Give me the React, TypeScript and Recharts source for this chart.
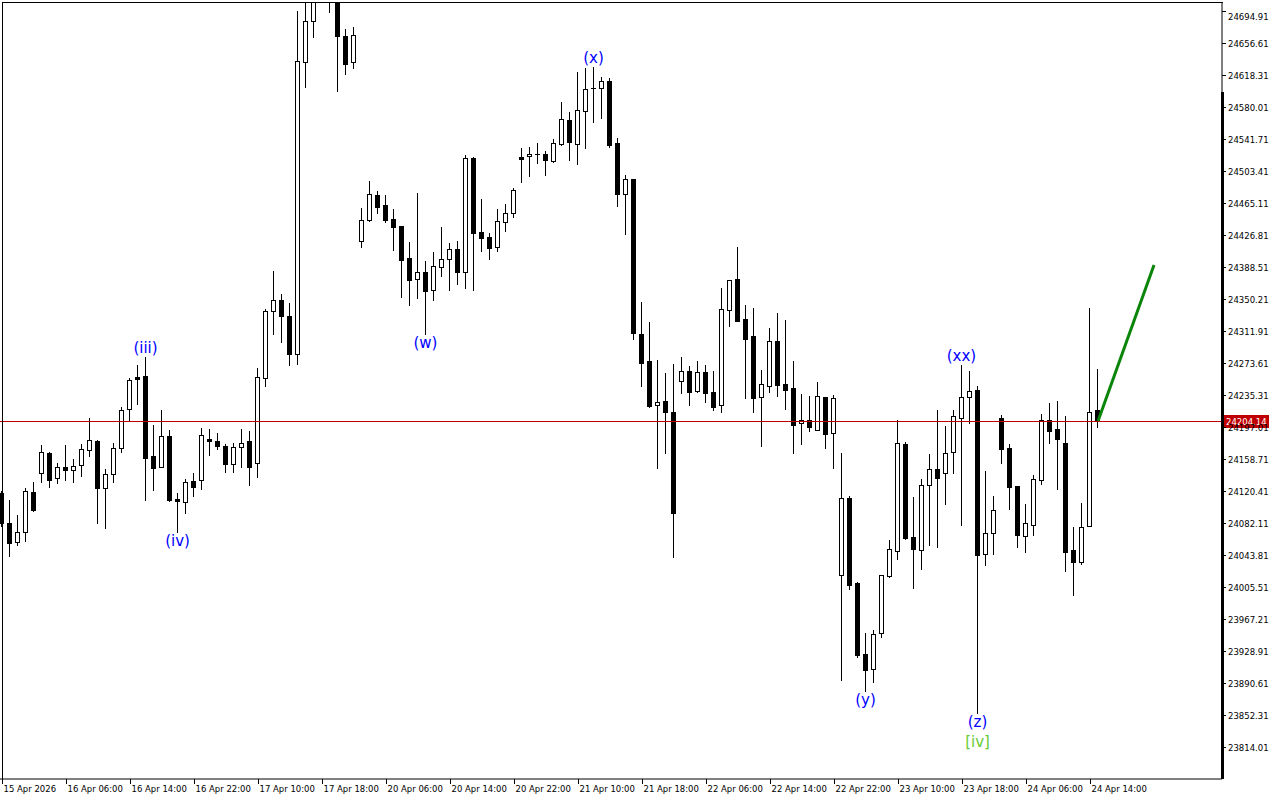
import { Bar, ComposedChart, Line, ReferenceLine, XAxis, YAxis } from "recharts";

// H1 candles, 15 Apr 2026 -> 24 Apr 2026
const timeLabels = [
  "15 Apr 2026", "16 Apr 06:00", "16 Apr 14:00", "16 Apr 22:00", "17 Apr 10:00",
  "17 Apr 18:00", "20 Apr 06:00", "20 Apr 14:00", "20 Apr 22:00", "21 Apr 10:00",
  "21 Apr 18:00", "22 Apr 06:00", "22 Apr 14:00", "22 Apr 22:00", "23 Apr 10:00",
  "23 Apr 18:00", "24 Apr 06:00", "24 Apr 14:00",
];

const priceTicks = [
  24694.91, 24656.61, 24618.31, 24580.01, 24541.71, 24503.41, 24465.11, 24426.81,
  24388.51, 24350.21, 24311.91, 24273.61, 24235.31, 24197.01, 24158.71, 24120.41,
  24082.11, 24043.81, 24005.51, 23967.21, 23928.91, 23890.61, 23852.31, 23814.01,
];

const opens = [
  24117.7, 24082.5, 24059.0, 24071.0, 24118.9, 24141.6, 24165.9, 24135.6, 24149.2, 24145.2,
  24151.2, 24169.1, 24180.3, 24123.6, 24140.4, 24171.5, 24218.2, 24256.5, 24258.1, 24162.3,
  24149.5, 24186.3, 24110.8, 24107.6, 24132.4, 24133.1, 24182.8, 24179.8, 24173.8, 24152.4,
  24173.0, 24179.8, 24154.5, 24255.4, 24335.4, 24348.5, 24329.7, 24284.9, 24633.3, 24682.5,
  24725.0, 24745.0, 24712.0, 24665.4, 24633.3, 24419.3, 24445.1, 24474.3, 24462.7, 24446.0,
  24437.6, 24398.9, 24373.8, 24382.2, 24360.6, 24388.9, 24397.7, 24409.7, 24383.0, 24519.0,
  24430.4, 24424.4, 24412.1, 24442.0, 24453.5, 24520.2, 24521.0, 24523.4, 24523.8, 24515.7,
  24536.1, 24564.5, 24535.4, 24575.6, 24602.4, 24602.4, 24610.8, 24536.9, 24476.3, 24493.5,
  24308.3, 24276.0, 24223.0, 24228.1, 24214.6, 24251.7, 24264.0, 24239.7, 24262.8, 24238.9,
  24223.7, 24337.4, 24374.2, 24325.9, 24305.9, 24233.3, 24246.4, 24300.0, 24248.5, 24243.3,
  24201.4, 24205.4, 24193.8, 24232.9, 24190.4, 24019.5, 24111.7, 24010.3, 23924.9, 23907.0,
  23950.8, 24019.0, 24048.3, 24176.3, 24065.0, 24050.2, 24127.2, 24146.8, 24141.6, 24166.7,
  24207.4, 24232.6, 24240.9, 24044.6, 24069.8, 24207.4, 24171.5, 24126.4, 24066.9, 24080.1,
  24133.9, 24205.4, 24194.3, 24177.9, 24049.8, 24035.1, 24078.2, 24217.0,
];

const highs = [
  24120.0, 24109.7, 24091.7, 24124.0, 24131.2, 24175.5, 24167.0, 24153.6, 24175.5, 24158.4,
  24176.3, 24208.2, 24181.5, 24146.4, 24177.5, 24220.9, 24255.3, 24271.2, 24281.2, 24199.4,
  24217.4, 24193.4, 24117.7, 24134.4, 24141.7, 24195.9, 24195.1, 24189.9, 24176.3, 24178.0,
  24194.8, 24191.7, 24267.7, 24338.4, 24383.3, 24356.3, 24346.0, 24695.3, 24720.0, 24745.0,
  24760.0, 24755.0, 24720.0, 24673.0, 24675.7, 24458.8, 24491.4, 24479.5, 24474.7, 24457.9,
  24437.6, 24418.4, 24477.1, 24396.1, 24406.5, 24436.4, 24416.9, 24419.6, 24522.2, 24520.5,
  24469.9, 24429.2, 24457.6, 24463.9, 24483.1, 24531.3, 24532.1, 24536.9, 24527.4, 24541.7,
  24586.0, 24574.0, 24621.9, 24626.7, 24628.3, 24616.3, 24615.1, 24542.9, 24498.6, 24493.9,
  24346.3, 24322.3, 24277.2, 24261.7, 24272.4, 24280.8, 24270.0, 24276.0, 24271.2, 24264.0,
  24363.7, 24372.6, 24412.1, 24343.0, 24339.4, 24265.2, 24315.5, 24333.1, 24325.1, 24276.0,
  24236.5, 24234.1, 24250.9, 24232.9, 24235.0, 24165.5, 24114.8, 24011.9, 23950.1, 23954.1,
  24019.5, 24061.8, 24205.4, 24179.1, 24113.3, 24134.4, 24164.7, 24217.4, 24198.2, 24217.4,
  24271.2, 24264.0, 24246.1, 24144.4, 24114.8, 24211.4, 24176.3, 24126.4, 24104.9, 24139.2,
  24212.6, 24225.7, 24228.1, 24210.2, 24077.3, 24106.1, 24339.4, 24266.4,
];

const lows = [
  24078.0, 24042.6, 24055.8, 24060.9, 24097.0, 24131.5, 24125.6, 24130.4, 24133.6, 24131.5,
  24138.7, 24162.7, 24082.5, 24076.5, 24131.5, 24167.5, 24204.6, 24224.5, 24109.7, 24121.6,
  24148.8, 24108.9, 24071.7, 24093.7, 24114.8, 24122.5, 24163.0, 24171.2, 24142.6, 24142.6,
  24149.4, 24128.1, 24137.4, 24245.6, 24308.5, 24299.0, 24271.7, 24272.9, 24603.4, 24664.0,
  24712.0, 24694.0, 24599.2, 24619.6, 24626.8, 24412.1, 24443.6, 24452.8, 24442.7, 24408.9,
  24353.0, 24343.0, 24351.8, 24308.3, 24349.0, 24377.7, 24361.0, 24368.5, 24363.0, 24361.0,
  24408.0, 24398.1, 24408.0, 24431.9, 24448.7, 24490.6, 24497.8, 24513.3, 24499.0, 24514.5,
  24534.9, 24516.9, 24512.1, 24530.6, 24562.4, 24566.8, 24532.5, 24461.5, 24428.0, 24302.0,
  24246.4, 24221.3, 24148.3, 24166.3, 24041.8, 24238.1, 24223.7, 24239.0, 24227.3, 24217.7,
  24215.0, 24318.3, 24324.2, 24232.1, 24215.0, 24174.6, 24239.3, 24234.5, 24218.9, 24166.3,
  24176.7, 24192.6, 24193.4, 24172.2, 24148.3, 23894.2, 24002.8, 23921.4, 23881.4, 23892.2,
  23946.0, 24017.8, 24039.0, 24063.0, 24004.3, 24027.0, 24055.8, 24053.8, 24105.2, 24142.3,
  24080.1, 24201.4, 23854.4, 24032.2, 24045.4, 24154.3, 24099.2, 24053.8, 24047.8, 24068.1,
  24129.2, 24178.2, 24123.2, 24025.0, 23996.3, 24032.7, 24078.0, 24197.4,
];

const closes = [
  24081.8, 24057.8, 24071.3, 24120.1, 24098.0, 24166.7, 24133.2, 24148.8, 24145.2, 24150.0,
  24170.7, 24181.5, 24124.4, 24140.4, 24171.5, 24217.0, 24252.9, 24254.8, 24160.3, 24148.3,
  24185.9, 24109.7, 24108.1, 24131.2, 24125.4, 24186.9, 24179.8, 24173.8, 24153.2, 24173.0,
  24177.6, 24149.4, 24256.7, 24335.4, 24348.5, 24330.2, 24284.9, 24634.6, 24682.5, 24725.0,
  24745.0, 24712.0, 24665.4, 24632.0, 24665.7, 24444.4, 24475.5, 24460.7, 24444.8, 24436.8,
  24397.3, 24373.3, 24382.2, 24360.1, 24389.4, 24397.7, 24409.7, 24383.0, 24519.0, 24429.6,
  24423.6, 24411.6, 24443.2, 24452.8, 24480.7, 24518.1, 24523.4, 24523.6, 24516.9, 24536.6,
  24565.3, 24538.5, 24576.1, 24601.2, 24602.6, 24610.8, 24534.9, 24475.9, 24493.5, 24309.2,
  24273.3, 24222.5, 24226.6, 24214.6, 24094.4, 24263.7, 24239.3, 24262.5, 24238.1, 24220.9,
  24337.9, 24372.6, 24324.2, 24302.7, 24231.7, 24248.1, 24299.6, 24247.3, 24241.7, 24199.8,
  24205.0, 24197.4, 24233.8, 24189.0, 24231.4, 24111.7, 24008.3, 23924.5, 23906.5, 23949.6,
  24019.5, 24050.6, 24177.5, 24064.2, 24051.4, 24127.2, 24146.4, 24136.3, 24165.5, 24209.8,
  24232.6, 24239.7, 24044.2, 24069.8, 24097.3, 24171.0, 24125.6, 24068.1, 24081.8, 24134.4,
  24205.0, 24192.6, 24183.0, 24047.8, 24035.8, 24077.3, 24214.6, 24204.14,
];

const BLUE = "#0000ff";
const LIME = "#66cc33";

// wave count labels, hung off the bar high ("top") or low ("bottom")
const waveMarks = [
  { bar: 18, text: "(iii)", side: "top", color: BLUE },
  { bar: 22, text: "(iv)", side: "bottom", color: BLUE },
  { bar: 53, text: "(w)", side: "bottom", color: BLUE },
  { bar: 74, text: "(x)", side: "top", color: BLUE },
  { bar: 108, text: "(y)", side: "bottom", color: BLUE },
  { bar: 120, text: "(xx)", side: "top", color: BLUE },
  { bar: 122, text: "(z)", side: "bottom", color: BLUE },
  { bar: 122, text: "[iv]", side: "bottom2", color: LIME },
];

// projected move drawn from the last close
const projBars = [137, 144];
const projPrices = [24204.14, 24391.0];

const SLOTS = 153; // bars plus empty chart shift on the right
const FONT = "'DejaVu Sans', sans-serif";
const lastClose = closes[closes.length - 1];
const Y_DOMAIN = [23775.71, 24705.69];

const data = Array.from({ length: SLOTS }, (_, i) => {
  const row: any = { i, marks: waveMarks.filter((m) => m.bar === i) };
  if (i < opens.length) {
    row.open = opens[i];
    row.high = highs[i];
    row.low = lows[i];
    row.close = closes[i];
    row.range = [lows[i], highs[i]];
  }
  const p = projBars.indexOf(i);
  if (p >= 0) row.proj = projPrices[p];
  return row;
});

function Candle(props: any) {
  const { x, y, width, height, payload } = props;
  if (!payload || payload.high == null) return null;
  const { open, high, low, close, marks } = payload;
  const top = Math.min(y, y + height);
  const h = Math.abs(height);
  const k = h / (high - low);
  const yOf = (v: number) => top + (high - v) * k;
  const cx = Math.floor(x + width / 2);
  const bTop = Math.round(yOf(Math.max(open, close)));
  const bBot = Math.round(yOf(Math.min(open, close)));
  const up = close >= open;
  let body;
  if (bBot - bTop < 1) {
    body = <line x1={cx - 2} x2={cx + 3} y1={bTop + 0.5} y2={bTop + 0.5} stroke="#000" />;
  } else if (up) {
    body = (
      <rect x={cx - 1.5} y={bTop + 0.5} width={4} height={bBot - bTop} fill="#fff" stroke="#000" />
    );
  } else {
    body = <rect x={cx - 2} y={bTop} width={5} height={bBot - bTop + 1} fill="#000" />;
  }
  return (
    <g>
      <line
        x1={cx + 0.5}
        x2={cx + 0.5}
        y1={Math.round(top)}
        y2={Math.round(top + h) + 1}
        stroke="#000"
      />
      {body}
      {(marks || []).map((m: any, n: number) => {
        const ty =
          m.side === "top" ? top - 9 : m.side === "bottom" ? top + h + 9 : top + h + 29;
        return (
          <text
            key={n}
            x={cx + 0.5}
            y={ty}
            textAnchor="middle"
            dominantBaseline="central"
            fontSize={15}
            fontFamily={FONT}
            fill={m.color}
          >
            {m.text}
          </text>
        );
      })}
    </g>
  );
}

function TimeTick(props: any) {
  const { x, y, payload } = props;
  const i = Number(payload.value);
  if (i % 8 !== 0) return null;
  const label = timeLabels[i / 8];
  if (!label) return null;
  const px = Math.floor(x) + 0.5;
  return (
    <g>
      <line x1={px} x2={px} y1={y} y2={y + 5} stroke="#000" />
      <text x={px + 1} y={y + 13} fontSize={8.5} fontFamily={FONT} fill="#000">
        {label}
      </text>
    </g>
  );
}

function PriceTick(props: any) {
  const { x, y, payload } = props;
  const py = Math.round(y) + 0.5;
  return (
    <g>
      <line x1={x} x2={x + 4} y1={py} y2={py} stroke="#000" />
      <text x={x + 6} y={Math.max(py, 16) + 3.5} fontSize={8.5} fontFamily={FONT} fill="#000">
        {Number(payload.value).toFixed(2)}
      </text>
    </g>
  );
}

function PriceTag(props: any) {
  const { viewBox } = props;
  if (!viewBox) return null;
  const x = viewBox.x + viewBox.width + 2;
  const y = Math.round(viewBox.y);
  return (
    <g>
      <rect x={x} y={y - 6} width={45} height={13} fill="#c00000" />
      <text x={x + 2} y={y + 4} fontSize={8.5} fontFamily={FONT} fill="#fff">
        {lastClose.toFixed(2)}
      </text>
    </g>
  );
}

// heavy part of the price scale border, shifted to the plot's right edge
function ScaleEdge(props: any) {
  const { x1, y1, y2 } = props;
  const px = Math.round(x1 + 4) + 0.5;
  return <line x1={px} x2={px} y1={y1} y2={y2} stroke="#000" strokeWidth={3} />;
}

export default function App() {
  return (
    <div style={{ position: "absolute", left: 0, top: 0, width: 1280, height: 800, background: "#fff" }}>
      <ComposedChart
        width={1280}
        height={800}
        data={data}
        margin={{ top: 2, right: 0, bottom: 0, left: -1.6 }}
        barCategoryGap={0}
      >
        <XAxis
          dataKey="i"
          type="category"
          interval={7}
          height={21}
          tickLine={false}
          tickSize={0}
          tickMargin={0}
          axisLine={{ stroke: "#000" }}
          tick={<TimeTick />}
        />
        <YAxis
          orientation="right"
          width={58}
          domain={Y_DOMAIN}
          allowDataOverflow
          ticks={priceTicks}
          interval={0}
          tickLine={false}
          tickSize={0}
          tickMargin={0}
          axisLine={{ stroke: "#000" }}
          tick={<PriceTick />}
        />
        <ReferenceLine
          y={lastClose}
          stroke="#c00000"
          shapeRendering="crispEdges"
          label={<PriceTag />}
        />
        <ReferenceLine
          segment={[
            { x: SLOTS - 1, y: 24598 },
            { x: SLOTS - 1, y: Y_DOMAIN[0] },
          ]}
          ifOverflow="visible"
          shape={<ScaleEdge />}
        />
        <Bar dataKey="range" barSize={5} shape={<Candle />} isAnimationActive={false} />
        <Line
          dataKey="proj"
          stroke="#0a850a"
          strokeWidth={3}
          dot={false}
          connectNulls
          isAnimationActive={false}
        />
      </ComposedChart>
      <div
        style={{
          position: "absolute",
          left: 2,
          top: 2,
          width: 1220,
          height: 777,
          borderTop: "1px solid #000",
          borderLeft: "1px solid #000",
          pointerEvents: "none",
        }}
      />
    </div>
  );
}
